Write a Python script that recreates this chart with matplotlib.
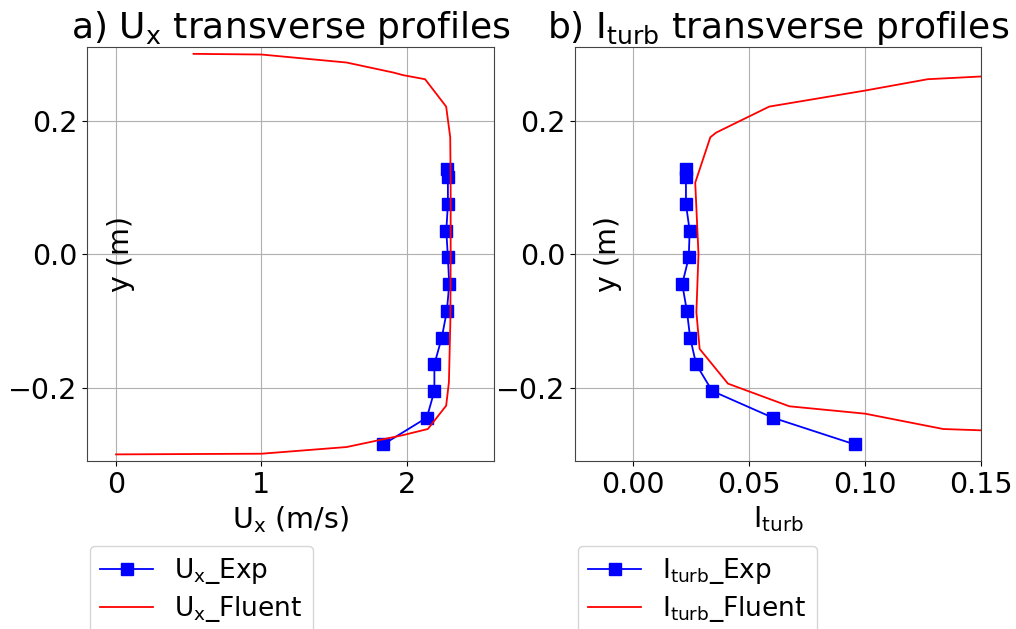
import matplotlib
matplotlib.use("Agg")
import matplotlib.pyplot as plt

plt.rcParams['font.family'] = ['DejaVu Sans']
plt.rcParams['mathtext.default'] = 'regular'

# Experimental data
y_exp = [0.127, 0.115, 0.075, 0.035, -0.005, -0.045, -0.085, -0.125, -0.165, -0.205, -0.245, -0.285]
ux_exp = [2.276, 2.283, 2.283, 2.272, 2.283, 2.292, 2.276, 2.241, 2.19, 2.19, 2.138, 1.839]
iturb_exp = [0.0228, 0.0228, 0.0228, 0.0244, 0.024, 0.0212, 0.0232, 0.0246, 0.0272, 0.0341, 0.0602, 0.0955]

# Fluent data
y_flu_u = [0.300, 0.299, 0.287, 0.272, 0.268, 0.262, 0.221, 0.175, 0.100, 0.0, -0.100,
           -0.192, -0.227, -0.262, -0.271, -0.289, -0.299, -0.300]
ux_flu = [0.533, 1.0, 1.586, 1.908, 1.977, 2.126, 2.271, 2.299, 2.302, 2.302, 2.300,
          2.290, 2.271, 2.145, 1.977, 1.586, 1.0, 0.0]

y_flu_i = [0.275, 0.262, 0.245, 0.221, 0.182, 0.175, 0.107, 0.0, -0.087, -0.142,
           -0.194, -0.228, -0.239, -0.262, -0.270]
iturb_flu = [0.200, 0.127, 0.100, 0.0587, 0.0358, 0.0333, 0.0268, 0.0282, 0.0273, 0.0287,
             0.0409, 0.0674, 0.100, 0.1337, 0.200]

fig = plt.figure(figsize=(10.16, 6.29), dpi=100)
ax1 = fig.add_axes([0.0856, 0.267, 0.4006, 0.658])
ax2 = fig.add_axes([0.566, 0.267, 0.3996, 0.658])

fs = 20.5

ax1.plot(ux_exp, y_exp, color='blue', marker='s', markersize=8, lw=1.3, label='U$_x$_Exp')
ax1.plot(ux_flu, y_flu_u, color='red', lw=1.3, label='U$_x$_Fluent')
ax1.set_xlim(-0.2, 2.6)
ax1.set_ylim(-0.31, 0.31)
ax1.set_xticks([0, 1, 2])
ax1.set_yticks([-0.2, 0.0, 0.2])
ax1.set_title('a) U$_x$ transverse profiles', fontsize=26)
ax1.set_xlabel('U$_x$ (m/s)', fontsize=fs)
ax1.set_ylabel('y (m)', fontsize=fs)
ax1.yaxis.set_label_coords(0.118, 0.5)

ax2.plot(iturb_exp, y_exp, color='blue', marker='s', markersize=8, lw=1.3, label='I$_{turb}$_Exp')
ax2.plot(iturb_flu, y_flu_i, color='red', lw=1.3, label='I$_{turb}$_Fluent')
ax2.set_xlim(-0.025, 0.15)
ax2.set_ylim(-0.31, 0.31)
ax2.set_xticks([0.0, 0.05, 0.10, 0.15])
ax2.set_xticklabels(['0.00', '0.05', '0.10', '0.15'])
ax2.set_yticks([-0.2, 0.0, 0.2])
ax2.set_title('b) I$_{turb}$ transverse profiles', fontsize=26)
ax2.set_xlabel('I$_{turb}$', fontsize=fs)
ax2.set_ylabel('y (m)', fontsize=fs)
ax2.yaxis.set_label_coords(0.116, 0.5)

for ax in (ax1, ax2):
    ax.grid(True, color='#b0b0b0', lw=0.8)
    ax.tick_params(labelsize=fs)
    for s in ax.spines.values():
        s.set_color('#444444')
    ax.legend(loc='upper left', bbox_to_anchor=(0.007, -0.205), borderaxespad=0,
              fontsize=19, labelspacing=0.3, frameon=True)

fig.savefig('out.png', dpi=100)
